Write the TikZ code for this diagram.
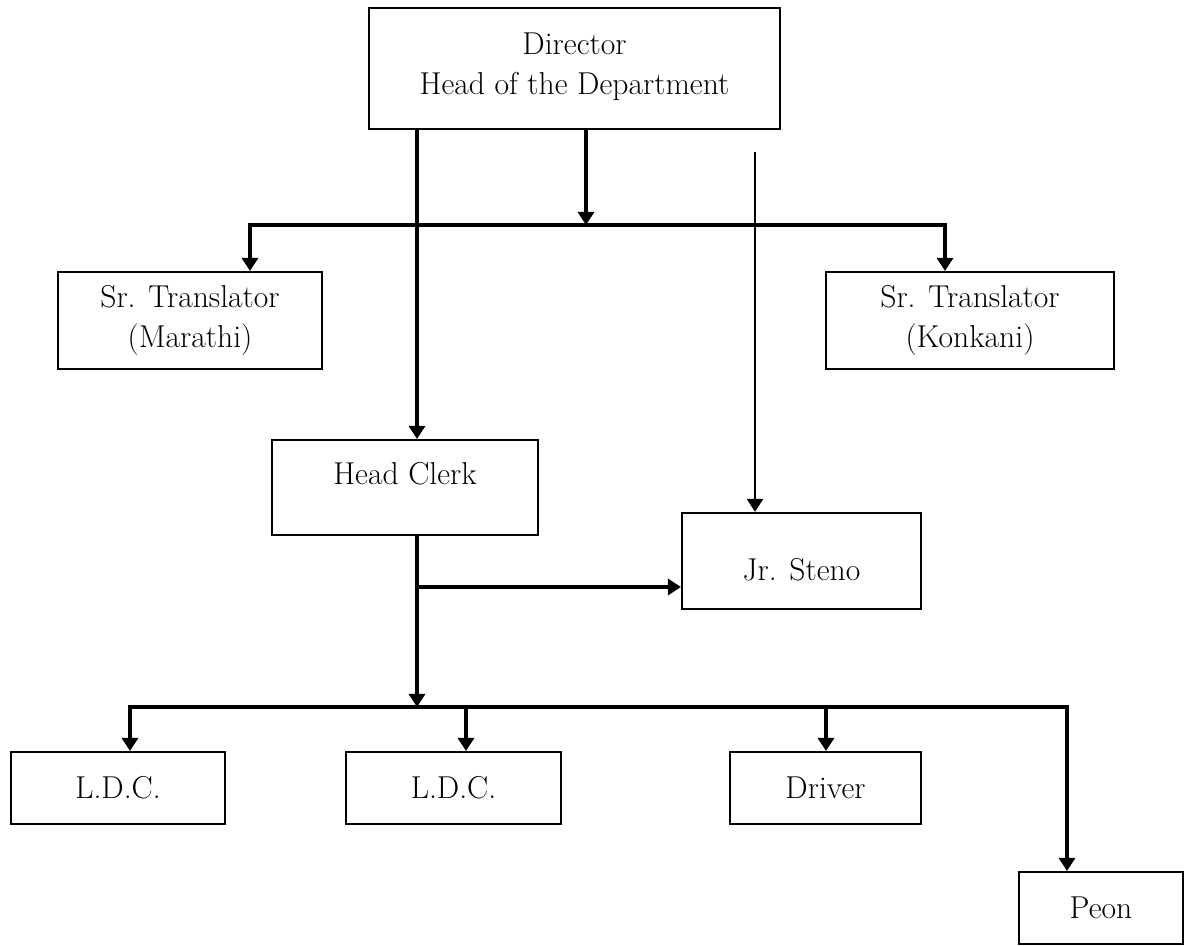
\documentclass[tikz,border=0pt]{standalone}
\usepackage{fontspec}
\usepackage{tikz}
\usetikzlibrary{arrows.meta,positioning,calc}

\begin{document}
\begin{tikzpicture}[->, >={Triangle[width=0.32cm,length=0.26cm]}, line width=1.8pt]
\tikzstyle{box}=[draw=black,line width=1.2pt,fill=white,text=black,align=center,
  font=\fontsize{18}{23}\selectfont,inner sep=0pt]
\useasboundingbox (0,0) rectangle (23.84,-18.92);
\node[box,minimum width=8.22cm,minimum height=2.42cm,text depth=0.2cm] (dir) at (11.49,-1.37) {Director\\Head of the Department};
\node[box,minimum width=5.28cm,minimum height=1.94cm] (mar) at (3.80,-6.41)  {Sr. Translator\\(Marathi)};
\node[box,minimum width=5.76cm,minimum height=1.94cm] (kon) at (19.40,-6.41) {Sr. Translator\\(Konkani)};
\node[box,minimum width=5.32cm,minimum height=1.90cm,text depth=0.56cm] (hc) at (8.10,-9.75) {Head Clerk};
\node[box,minimum width=4.78cm,minimum height=1.92cm,text height=0.80cm] (st) at (16.03,-11.22) {Jr. Steno};
\node[box,minimum width=4.28cm,minimum height=1.44cm] (l1) at (2.36,-15.76)  {L.D.C.};
\node[box,minimum width=4.30cm,minimum height=1.44cm] (l2) at (9.07,-15.76)  {L.D.C.};
\node[box,minimum width=3.82cm,minimum height=1.44cm] (drv) at (16.51,-15.76) {Driver};
\node[box,minimum width=3.28cm,minimum height=1.44cm] (pe) at (22.02,-18.16) {Peon};
% junction points
\coordinate (jt) at (11.72,-4.50);
\coordinate (tl) at (5.00,-4.50);
\coordinate (tr) at (18.90,-4.50);
\coordinate (sa) at (15.10,-3.04);
\coordinate (jm) at (8.34,-11.74);
\coordinate (jb) at (8.34,-14.14);
\coordinate (bl) at (2.60,-14.14);
\coordinate (br) at (21.34,-14.14);
\coordinate (b2) at (9.32,-14.14);
\coordinate (b3) at (16.52,-14.14);
\draw (dir.south -| jb) -- (hc.north -| jb);
\draw (dir.south -| jt) -- (jt);
\draw[<->] (tl |- mar.north) -- (tl) -- (tr) -- (tr |- kon.north);
\draw[line width=1.4pt] (sa) -- (sa |- st.north);
\draw (hc.south -| jb) -- (jb);
\draw (jm) -- (jm -| st.west);
\draw[<->] (bl |- l1.north) -- (bl) -- (br) -- (br |- pe.north);
\draw (b2) -- (b2 |- l2.north);
\draw (b3) -- (b3 |- drv.north);
\end{tikzpicture}
\end{document}
